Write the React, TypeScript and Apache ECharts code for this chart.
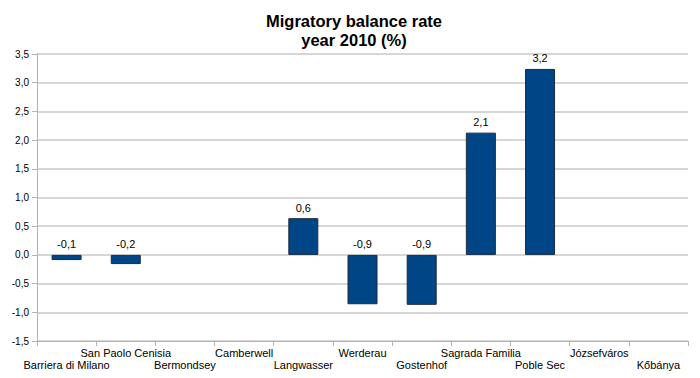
import React, { useEffect, useRef } from "react";
import * as echarts from "echarts";

const categories = [
  "Barriera di Milano",
  "San Paolo Cenisia",
  "Bermondsey",
  "Camberwell",
  "Langwasser",
  "Werderau",
  "Gostenhof",
  "Sagrada Familia",
  "Poble Sec",
  "Józsefváros",
  "Kőbánya",
];
const values: (number | null)[] = [-0.09, -0.16, null, null, 0.64, -0.86, -0.87, 2.13, 3.24, null, null];
const yMin = -1.5;
const yMax = 3.5;
const yStep = 0.5;

const fmt = (v: number) => v.toFixed(1).replace(".", ",");

export default function App() {
  const ref = useRef<HTMLDivElement>(null);
  useEffect(() => {
    if (!ref.current) return;
    const chart = echarts.init(ref.current, undefined, { renderer: "svg" });
    chart.setOption({
      animation: false,
      title: {
        text: "Migratory balance rate\nyear 2010 (%)",
        left: 349,
        textAlign: "center",
        top: 6,
        textStyle: {
          fontFamily: "'Liberation Sans', Arial, sans-serif",
          fontSize: 16.5,
          fontWeight: "bold",
          color: "#000",
          lineHeight: 19,
        },
      },
      grid: { left: 37, right: 12, top: 54, bottom: 37, containLabel: false },
      xAxis: {
        type: "category",
        data: categories,
        position: "bottom",
        axisLine: { show: true, onZero: false, lineStyle: { color: "#b3b3b3" } },
        axisTick: { show: true, length: 5, lineStyle: { color: "#b3b3b3" } },
        axisLabel: {
          interval: 0,
          margin: 6,
          fontFamily: "'Liberation Sans', Arial, sans-serif",
          fontSize: 11,
          color: "#000",
          lineHeight: 12,
          formatter: (val: string, idx: number) => (idx % 2 === 1 ? val + "\n " : " \n" + val),
        },
        splitLine: { show: false },
      },
      yAxis: {
        type: "value",
        min: yMin,
        max: yMax,
        interval: yStep,
        axisLine: { show: true, lineStyle: { color: "#b3b3b3" } },
        axisTick: { show: true, length: 5, lineStyle: { color: "#b3b3b3" } },
        axisLabel: {
          fontFamily: "'Liberation Sans', Arial, sans-serif",
          fontSize: 10,
          color: "#000",
          margin: 8,
          formatter: (v: number) => fmt(v),
        },
        splitLine: { show: true, lineStyle: { color: "#c8c8c8", width: 1.5 } },
      },
      series: [
        {
          type: "bar",
          data: values.map((v) => (v === null ? null : v)),
          barWidth: 30,
          itemStyle: { color: "#004586", borderColor: "#1c2b3c", borderWidth: 1 },
          label: {
            show: true,
            position: "top",
            distance: 5,
            fontFamily: "'Liberation Sans', Arial, sans-serif",
            fontSize: 11,
            color: "#000",
            formatter: (p: any) => fmt(p.value),
          },
        },
      ],
    });
    return () => chart.dispose();
  }, []);
  return <div ref={ref} style={{ width: 700, height: 378, position: "absolute", left: 0, top: 0 }} />;
}
